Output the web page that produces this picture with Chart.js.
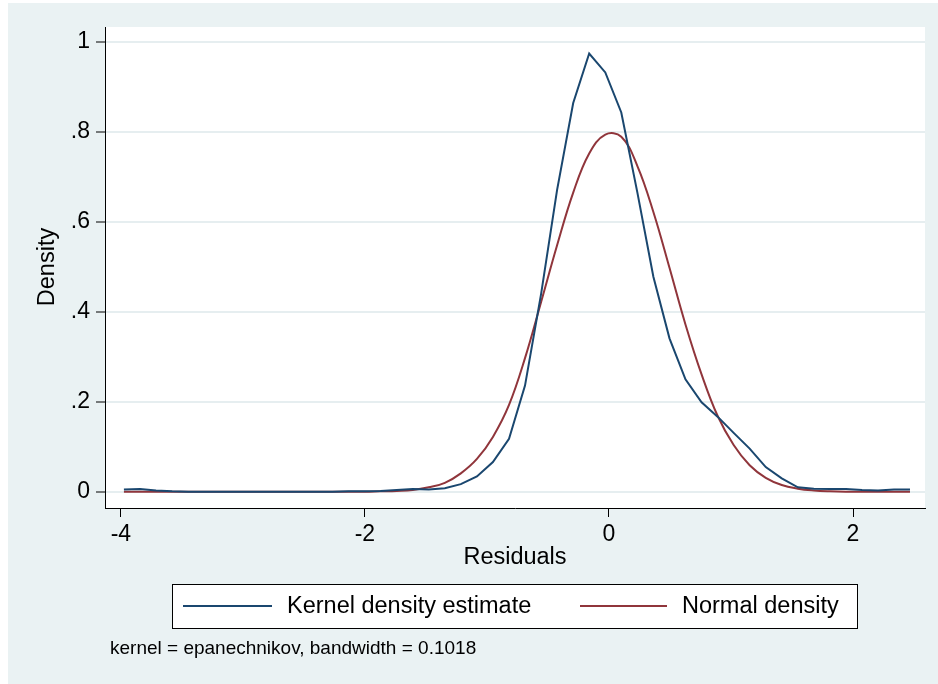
<!DOCTYPE html>
<html>
<head>
<meta charset="utf-8">
<script src="https://cdn.jsdelivr.net/npm/chart.js@4"></script>
<style>
  html, body { margin: 0; padding: 0; background: #fff; }
  #wrap { width: 938px; height: 684px; }
</style>
</head>
<body>
<div id="wrap"><canvas id="density-chart" width="938" height="684"></canvas></div>
<script>
// evaluation grid (50 points, -3.975 .. 2.467)
var gridX = [-3.975,-3.843,-3.712,-3.580,-3.449,-3.317,-3.186,-3.055,-2.923,-2.792,
  -2.660,-2.529,-2.397,-2.266,-2.134,-2.003,-1.871,-1.740,-1.608,-1.477,
  -1.345,-1.214,-1.082,-0.951,-0.819,-0.688,-0.556,-0.425,-0.293,-0.162,
  -0.030,0.101,0.233,0.364,0.496,0.627,0.759,0.890,1.022,1.153,
  1.285,1.416,1.548,1.679,1.811,1.942,2.074,2.205,2.336,2.467];

var kernelY = [0.005,0.006,0.003,0.001,0.000,0.000,0.000,0.000,0.000,0.000,
  0.000,0.000,0.000,0.000,0.001,0.001,0.002,0.004,0.006,0.005,
  0.008,0.017,0.034,0.066,0.118,0.236,0.440,0.671,0.864,0.974,
  0.932,0.843,0.665,0.478,0.341,0.250,0.199,0.167,0.131,0.096,
  0.055,0.030,0.010,0.007,0.006,0.006,0.004,0.003,0.005,0.005];

var normalY = [0.000,0.000,0.000,0.000,0.000,0.000,0.000,0.000,0.000,0.000,
  0.000,0.000,0.000,0.000,0.000,0.000,0.001,0.002,0.004,0.010,
  0.020,0.041,0.073,0.122,0.193,0.297,0.422,0.548,0.665,0.752,
  0.794,0.789,0.724,0.622,0.498,0.372,0.261,0.169,0.104,0.059,
  0.031,0.015,0.007,0.003,0.001,0.000,0.000,0.000,0.000,0.000];

var xTicks = [-4, -2, 0, 2];
var yTicks = [0, 0.2, 0.4, 0.6, 0.8, 1];
var yTickText = ["0", ".2", ".4", ".6", ".8", "1"];

var FONT = "'Liberation Sans', Arial, Helvetica, sans-serif";
var BLUE = "#1a476f";
var RED = "#90353b";
var BG = "#eaf2f3";

function pts(ys) {
  return gridX.map(function (x, i) { return { x: x, y: ys[i] }; });
}

var decor = {
  id: 'decor',
  beforeDraw: function (chart) {
    var ctx = chart.ctx, a = chart.chartArea;
    ctx.save();
    ctx.fillStyle = '#fff';
    ctx.fillRect(0, 0, chart.width, chart.height);
    ctx.fillStyle = BG;
    ctx.fillRect(8, 3, chart.width - 8, chart.height - 3);
    ctx.fillStyle = '#fff';
    ctx.fillRect(a.left, a.top, a.right - a.left, a.bottom - a.top);
    ctx.restore();
  },
  afterDraw: function (chart) {
    var ctx = chart.ctx;
    ctx.save();
    ctx.fillStyle = '#000';
    ctx.textBaseline = 'middle';
    ctx.textAlign = 'center';
    ctx.font = '23.5px ' + FONT;
    ctx.fillText('Residuals', 515, 558);
    ctx.save();
    ctx.translate(48, 267);
    ctx.rotate(-Math.PI / 2);
    ctx.fillText('Density', 0, 0);
    ctx.restore();

    // legend box
    ctx.fillStyle = '#fff';
    ctx.fillRect(172, 584, 685, 44);
    ctx.strokeStyle = '#000';
    ctx.lineWidth = 1;
    ctx.strokeRect(172.5, 584.5, 685, 44);
    ctx.lineWidth = 2;
    ctx.strokeStyle = BLUE;
    ctx.beginPath(); ctx.moveTo(183, 606); ctx.lineTo(272, 606); ctx.stroke();
    ctx.strokeStyle = RED;
    ctx.beginPath(); ctx.moveTo(580, 606); ctx.lineTo(667, 606); ctx.stroke();
    ctx.fillStyle = '#000';
    ctx.textAlign = 'left';
    ctx.fillText('Kernel density estimate', 287, 607);
    ctx.fillText('Normal density', 682, 607);

    ctx.font = '19px ' + FONT;
    ctx.fillText('kernel = epanechnikov, bandwidth = 0.1018', 110, 649);
    ctx.restore();
  }
};

new Chart(document.getElementById('density-chart'), {
  type: 'line',
  data: {
    datasets: [{
      label: 'Kernel density estimate',
      data: pts(kernelY),
      borderColor: BLUE,
      borderWidth: 2,
      pointRadius: 0,
      tension: 0,
      fill: false
    }, {
      label: 'Normal density',
      data: pts(normalY),
      borderColor: RED,
      borderWidth: 2,
      pointRadius: 0,
      tension: 0.4,
      fill: false
    }]
  },
  options: {
    responsive: false,
    animation: false,
    events: [],
    layout: { padding: { left: 0, top: 27, right: 13, bottom: 0 } },
    plugins: { legend: { display: false }, tooltip: { enabled: false } },
    scales: {
      x: {
        type: 'linear',
        min: -4.13,
        max: 2.59,
        afterFit: function (s) { s.height = 176; },
        afterBuildTicks: function (s) { s.ticks = xTicks.map(function (v) { return { value: v }; }); },
        grid: { drawOnChartArea: false, drawTicks: true, tickLength: 9, tickColor: '#000', tickWidth: 1 },
        border: { display: true, color: '#000', width: 1 },
        ticks: { color: '#000', padding: 4, maxRotation: 0, font: { family: FONT, size: 23 } }
      },
      y: {
        type: 'linear',
        min: -0.036,
        max: 1.033,
        afterFit: function (s) { s.width = 105; },
        afterBuildTicks: function (s) { s.ticks = yTicks.map(function (v) { return { value: v }; }); },
        grid: { color: '#e6eef0', lineWidth: 2, drawTicks: true, tickLength: 9, tickColor: '#000', tickWidth: 1 },
        border: { display: true, color: '#000', width: 1 },
        ticks: {
          color: '#000', padding: 6, font: { family: FONT, size: 23 },
          callback: function (v) { var i = yTicks.indexOf(v); return i >= 0 ? yTickText[i] : ''; }
        }
      }
    }
  },
  plugins: [decor]
});
</script>
</body>
</html>
